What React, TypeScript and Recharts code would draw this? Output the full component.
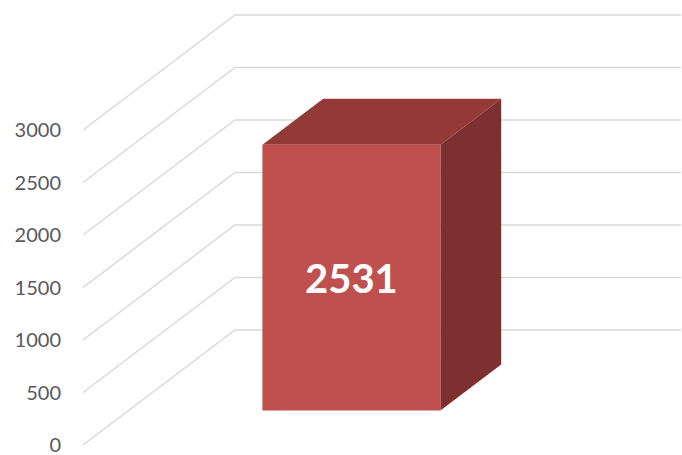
import React from 'react';
import { BarChart, Bar, XAxis, YAxis, CartesianGrid } from 'recharts';

const categories = ['Total'];
const values = [2531];
const yTicks = [0, 500, 1000, 1500, 2000, 2500, 3000];

const data = categories.map((name, i) => ({ name, value: values[i] }));

// oblique 3D projection: how far the back wall sits from the front plane
const WALL_DX = 152;
const WALL_DY = 115;
const BAR_FRONT = 0.3; // bar front face depth, fraction of wall depth
const BAR_DEPTH = 0.4; // bar thickness, fraction of wall depth

const GridLine = (props: any) => {
  const { x1, y1, x2 } = props;
  const bx = x1 + WALL_DX;
  const by = y1 - WALL_DY;
  return (
    <polyline
      points={`${x1},${y1} ${bx},${by} ${x2 + WALL_DX},${by}`}
      fill="none"
      stroke="#d9d9d9"
      strokeWidth={1.5}
    />
  );
};

const Box3D = (props: any) => {
  const { x, y, width, height, value } = props;
  const fx = x + WALL_DX * BAR_FRONT;
  const fy = y - WALL_DY * BAR_FRONT;
  const dx = WALL_DX * BAR_DEPTH;
  const dy = WALL_DY * BAR_DEPTH;
  return (
    <g>
      <polygon
        points={`${fx},${fy} ${fx + dx},${fy - dy} ${fx + width + dx},${fy - dy} ${fx + width},${fy}`}
        fill="#933a38"
      />
      <polygon
        points={`${fx + width},${fy} ${fx + width + dx},${fy - dy} ${fx + width + dx},${fy + height - dy} ${fx + width},${fy + height}`}
        fill="#7c3130"
      />
      <rect x={fx} y={fy} width={width} height={height} fill="#c0504d" />
      <text
        x={fx + width / 2}
        y={fy + height / 2}
        textAnchor="middle"
        dominantBaseline="central"
        fill="#ffffff"
        fontSize={40}
        fontWeight="bold"
        fontFamily="Lato, sans-serif"
      >
        {value}
      </text>
    </g>
  );
};

export default function App() {
  return (
    <div style={{ position: 'absolute', left: 0, top: 0, fontFamily: 'Lato, sans-serif' }}>
      <BarChart
        width={682}
        height={455}
        data={data}
        margin={{ top: 130, right: 153, bottom: 10, left: 0 }}
        barCategoryGap="30%"
      >
        <CartesianGrid vertical={false} horizontal={GridLine as any} />
        <XAxis dataKey="name" hide />
        <YAxis
          width={83}
          domain={[0, 3000]}
          ticks={yTicks}
          interval={0}
          axisLine={false}
          tickLine={false}
          tickSize={6}
          tickMargin={16}
          tick={{ fill: '#595959', fontSize: 20, fontFamily: 'Lato, sans-serif' }}
        />
        <Bar dataKey="value" shape={<Box3D />} isAnimationActive={false} />
      </BarChart>
    </div>
  );
}
